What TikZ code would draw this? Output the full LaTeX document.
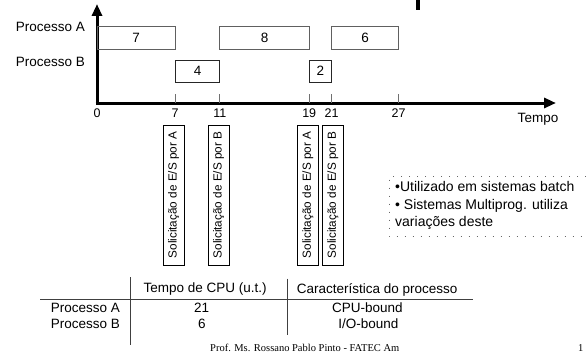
\documentclass[tikz,border=0pt]{standalone}
\usepackage{fontspec}
\setmainfont{Liberation Sans}
\newfontfamily\footserif{Liberation Serif}
\usetikzlibrary{arrows.meta}
\definecolor{boxgray}{HTML}{606060}
\definecolor{tickgray}{HTML}{707070}
\tikzset{
  fz/.style={font=\fontsize{#1}{#1}\selectfont},
  abox/.style={draw=boxgray, line width=0.9pt, inner sep=0pt, minimum height=22.3pt, fz=13.5},
  bbox/.style={draw=black!85, line width=0.9pt, inner sep=0pt, minimum height=22.3pt, fz=13.5},
  iobox/.style={draw=black, line width=0.8pt, rotate=90, inner sep=0pt, minimum width=140pt, minimum height=20.7pt, fz=11.75},
  axisline/.style={line width=3pt, -{Triangle[length=12pt,width=10pt]}},
  tickline/.style={draw=tickgray, line width=0.9pt},
  ticklab/.style={fz=12.5, inner sep=0pt},
  tabline/.style={draw=black!75, line width=0.9pt},
  tabtext/.style={fz=13.5, inner sep=0pt},
}
\begin{document}
\begin{tikzpicture}[x=1pt,y=-1pt]
\useasboundingbox (0,0) rectangle (586,361);
% title remnant
\fill (416,0) rectangle (420,10);
% axes
\coordinate (O) at (97,103);
\coordinate (ytop) at (97,4);
\coordinate (xend) at (556,103);
\draw[axisline] ([yshift=-1.5pt]O) -- (ytop);
\draw[axisline] ([xshift=-1.5pt]O) -- (xend);
% row labels
\node[tabtext, anchor=east] (pa) at (85,27) {Processo A};
\node[tabtext, anchor=east] (pb) at (85,62) {Processo B};
% ticks
\foreach \t/\x in {7/175.2, 11/219.9, 19/309.2, 21/331.6, 27/398.6}{
  \draw[tickline] (\x,94) -- (\x,103);
  \node[ticklab] (t\t) at (\x,113.5) {\t};
}
\node[ticklab] (t0) at (97,113.5) {0};
\node[tabtext] (tempo) at (538,119) {Tempo};
% process boxes
\node[abox, minimum width=78.2pt] (a1) at (136.1,37.85) {7};
\node[abox, minimum width=89.3pt] (a2) at (264.55,37.85) {8};
\node[abox, minimum width=67pt] (a3) at (365.1,37.85) {6};
\node[bbox, minimum width=44.7pt] (b1) at (197.55,71.15) {4};
\node[bbox, minimum width=22.4pt] (b2) at (320.4,71.15) {2};
% I/O request boxes
\node[iobox] (s1) at (173.65,195) {Solicitação de E/S por A};
\node[iobox] (s2) at (218.65,195) {Solicitação de E/S por B};
\node[iobox] (s3) at (307.8,195) {Solicitação de E/S por A};
\node[iobox] (s4) at (332.8,195) {Solicitação de E/S por B};
% side note
\draw[draw=black!60, line width=0.6pt, dash pattern=on 0.8pt off 7.2pt]
  (586,176.7) -- (389,176.7) -- (389,236) -- (586,236);
\node[fz=14, anchor=north west, align=left, inner sep=0pt,
      font=\fontsize{14}{17.5}\selectfont] (note) at (395,181.5)
  {•Utilizado em sistemas batch\\• Sistemas Multiprog. utiliza\\variações deste};
% table
\draw[tabline] (130.7,277) -- (130.7,344.7);
\draw[tabline] (287.7,278.7) -- (287.7,335);
\draw[tabline] (40,299.7) -- (472.7,299.7);
\node[tabtext, anchor=west] (h1) at (143.3,289.5) {Tempo de CPU (u.t.)};
\node[tabtext, anchor=west] (h2) at (296.7,289.5) {Característica do processo};
\node[tabtext, anchor=east] (ra) at (120,307.5) {Processo A};
\node[tabtext, anchor=east] (rb) at (120,323.7) {Processo B};
\node[tabtext] (va) at (201.7,307.5) {21};
\node[tabtext] (vb) at (202,323.7) {6};
\node[tabtext] (ca) at (367.3,307.5) {CPU-bound};
\node[tabtext] (cb) at (368.3,323.7) {I/O-bound};
% footer
\node[font=\footserif\fontsize{10.5}{10.5}\selectfont, anchor=west, inner sep=0pt] (foot) at (210,348) {Prof. Ms. Rossano Pablo Pinto - FATEC Am};
\node[font=\footserif\fontsize{10.5}{10.5}\selectfont, anchor=west, inner sep=0pt] (pg) at (578,348) {1};
\end{tikzpicture}
\end{document}
